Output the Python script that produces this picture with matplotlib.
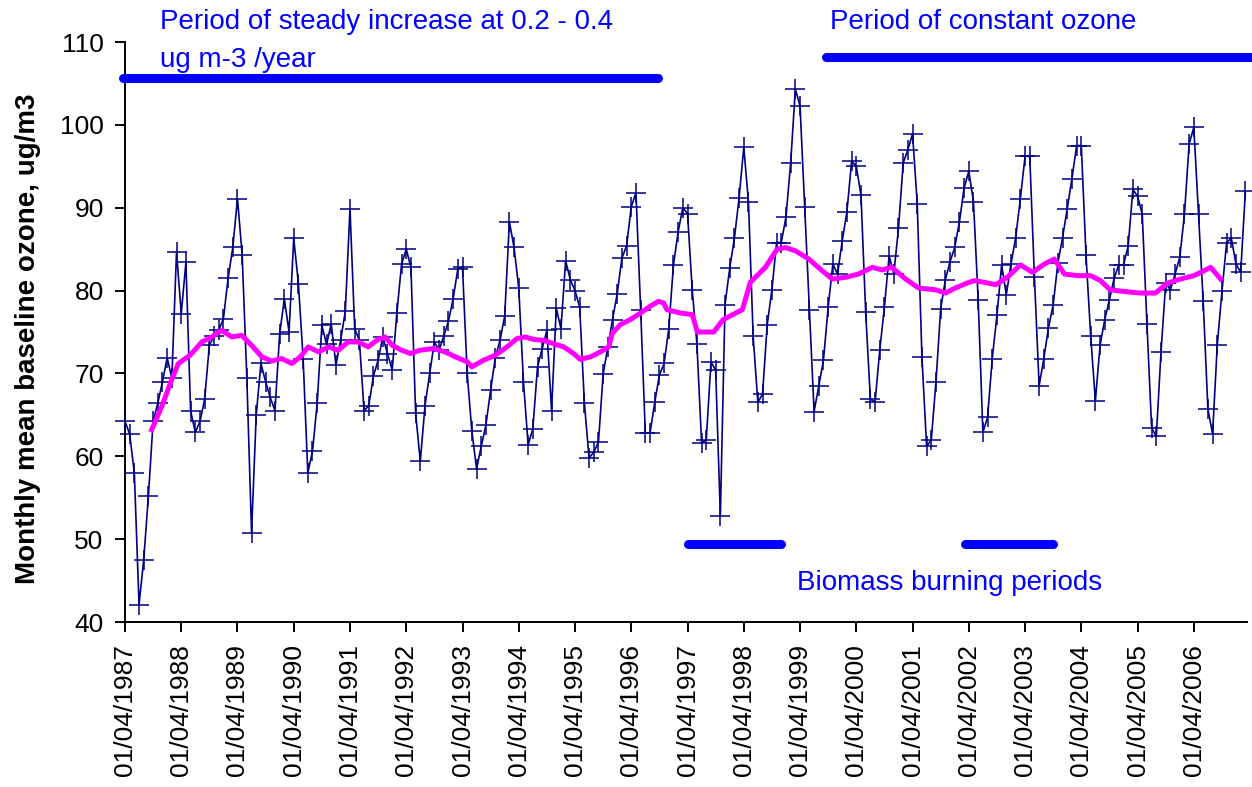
import numpy as np
import matplotlib
matplotlib.use("Agg")
import matplotlib.pyplot as plt

plt.rcParams['font.family'] = ['Liberation Sans', 'DejaVu Sans']

# monthly mean baseline ozone, ug/m3, one value per month from April 1987
ozone = [
    64.2, 62.7, 58.0, 42.1, 47.5, 55.2, 64.2, 66.4, 69.0, 71.9, 69.4, 84.7,
    77.2, 83.4, 65.5, 62.9, 64.2, 66.9, 73.4, 74.5, 75.2, 76.6, 81.5, 85.2,
    91.1, 84.3, 69.4, 50.8, 65.0, 71.2, 69.0, 67.1, 65.5, 74.8, 79.0, 75.0,
    86.3, 80.8, 71.8, 58.0, 60.6, 66.4, 75.8, 73.5, 76.0, 71.0, 74.0, 77.5,
    89.9, 75.4, 74.0, 65.5, 66.1, 69.7, 71.6, 74.4, 72.4, 70.4, 77.3, 83.2,
    85.0, 82.8, 65.2, 59.4, 66.1, 70.0, 73.8, 72.8, 74.5, 76.3, 79.0, 82.6,
    82.8, 70.0, 63.0, 58.5, 61.2, 63.8, 68.0, 71.9, 74.0, 76.9, 88.3, 85.2,
    80.3, 69.0, 61.4, 63.3, 70.8, 73.0, 75.2, 65.5, 77.9, 75.4, 83.6, 81.3,
    80.0, 78.0, 66.4, 59.8, 60.5, 61.7, 69.9, 73.2, 76.5, 79.6, 83.9, 85.4,
    90.1, 91.8, 77.7, 62.8, 62.8, 66.5, 69.8, 71.2, 75.4, 83.1, 87.1, 90.0,
    89.3, 80.1, 73.6, 61.6, 62.0, 71.4, 70.4, 52.8, 78.3, 82.7, 86.3, 91.2,
    97.3, 90.7, 74.5, 66.5, 67.5, 75.9, 80.1, 85.8, 85.8, 88.9, 95.4, 104.3,
    102.3, 90.1, 77.7, 65.4, 68.5, 71.6, 78.0, 83.2, 82.0, 86.0, 89.5, 95.6,
    95.0, 91.5, 77.4, 66.9, 66.5, 72.8, 78.0, 84.2, 82.0, 87.5, 95.4, 97.0,
    98.9, 90.5, 72.0, 61.2, 62.0, 69.0, 77.8, 81.3, 83.5, 85.2, 88.3, 92.4,
    94.4, 90.7, 78.9, 62.9, 64.7, 71.8, 77.0, 83.1, 79.5, 83.2, 86.4, 91.1,
    96.2, 96.2, 81.6, 68.5, 71.8, 75.5, 78.3, 83.3, 86.4, 89.9, 93.5, 97.5,
    97.5, 84.3, 74.5, 66.7, 73.4, 76.5, 78.9, 81.5, 83.1, 83.1, 85.4, 92.2,
    91.4, 89.2, 76.0, 63.4, 62.4, 72.6, 80.9, 80.1, 82.0, 84.0, 89.2, 97.7,
    99.7, 89.2, 78.7, 65.7, 62.7, 73.4, 79.9, 85.8, 86.3, 83.2, 82.2, 92.0,
]

# running mean (magenta), months since April 1987 and value
trend_month = [
    5.7, 7.9, 10.0, 11.4, 13.9, 16.4, 18.5, 20.6, 22.8, 24.9, 27.0, 29.2,
    31.3, 33.4, 35.6, 37.4, 39.1, 41.3, 43.4, 45.5, 47.6, 49.8, 51.9, 53.7,
    55.5, 57.0, 59.0, 60.9, 62.9, 65.8, 68.3, 70.5, 73.0, 74.0, 76.5, 79.0,
    81.5, 83.6, 85.4, 87.2, 89.3, 91.4, 93.6, 95.7, 97.1, 99.3, 101.4, 103.2,
    103.9, 105.7, 107.8, 110.0, 112.0, 113.8, 114.9, 115.6, 118.4, 121.0, 122.1, 125.6,
    127.6, 131.7, 133.4, 136.6, 139.1, 140.9, 143.0, 145.9, 148.7, 150.9, 153.7, 156.5,
    159.4, 161.5, 163.6, 166.5, 169.3, 172.9, 175.0, 177.1, 179.6, 181.1, 183.3, 185.7,
    188.2, 191.0, 193.6, 196.1, 198.2, 200.4, 203.2, 206.0, 208.1, 210.1, 213.0, 216.7,
    219.8, 222.4, 225.2, 228.0, 230.2, 231.6, 233.7,
]
trend_value = [
    63.2, 66.1, 69.3, 71.2, 72.2, 73.8, 74.4, 75.2, 74.4, 74.6, 73.4, 72.0,
    71.5, 71.8, 71.2, 72.0, 73.2, 72.6, 73.2, 72.8, 73.8, 73.8, 73.2, 74.0,
    74.4, 73.4, 72.8, 72.4, 72.8, 73.0, 72.6, 72.0, 71.4, 70.8, 71.6, 72.2,
    73.2, 74.2, 74.4, 74.1, 74.0, 73.6, 73.2, 72.4, 71.7, 72.0, 72.6, 73.2,
    74.8, 75.9, 76.5, 77.3, 78.1, 78.7, 78.5, 77.7, 77.3, 77.1, 75.0, 75.0,
    76.5, 77.7, 81.0, 82.8, 85.0, 85.2, 84.8, 83.8, 82.4, 81.4, 81.6, 82.0,
    82.8, 82.5, 82.8, 81.4, 80.3, 80.1, 79.7, 80.3, 80.9, 81.2, 81.0, 80.7,
    81.6, 83.1, 82.2, 83.2, 83.8, 82.0, 81.8, 81.8, 81.2, 80.1, 79.9, 79.7,
    79.7, 80.9, 81.4, 81.8, 82.4, 82.8, 81.4,
]

tick_years = list(range(1987, 2007))
tick_labels = ["01/04/%d" % y for y in tick_years]

# annotation bars: (start month, end month, level)
steady_bar = (-0.4, 113.7, 105.7)
constant_bar = (149.5, 246.0, 108.2)
biomass_bars = [(120.0, 139.9, 49.4), (179.1, 197.9, 49.4)]

W, H = 1252, 787
fig = plt.figure(figsize=(W / 100, H / 100), dpi=100)
ax = fig.add_axes([124.5 / W, 1 - 622 / H, 1122.3 / W, 580 / H])

months = np.arange(len(ozone))
ax.plot(months, ozone, color='#000080', lw=1.2, marker='+', ms=14, mew=1.1,
        clip_on=False, zorder=3)
ax.plot(trend_month, trend_value, color='#FF00FF', lw=3.6, zorder=4)

bar_kw = dict(color='#0000FF', lw=6.5, solid_capstyle='round', clip_on=False, zorder=5)
ax.plot(steady_bar[:2], [steady_bar[2]] * 2, **bar_kw)
ax.plot(constant_bar[:2], [constant_bar[2]] * 2, **bar_kw)
for x0, x1, y in biomass_bars:
    ax.plot([x0, x1], [y, y], **bar_kw)

ax.set_xlim(-0.1, 239.3)
ax.set_ylim(40, 110)
ax.set_yticks(range(40, 111, 10))
ax.set_xticks([12 * (y - 1987) for y in tick_years])
ax.set_xticklabels(tick_labels, rotation=90)
ax.tick_params(axis='both', labelsize=19, length=7, width=1.4, direction='out')
ax.tick_params(axis='x', pad=9)
ax.tick_params(axis='y', pad=8)
for s in ['top', 'right']:
    ax.spines[s].set_visible(False)
for s in ['left', 'bottom']:
    ax.spines[s].set_linewidth(1.4)

ax.set_ylabel("Monthly mean baseline ozone, ug/m3", fontsize=20, fontweight='bold')
ax.yaxis.set_label_coords((41 - 124.5) / 1122.3, 0.488)

txt = dict(color='#0000FF', fontsize=20, va='center', ha='left')
fig.text(160 / W, 1 - 22 / H, "Period of steady increase at 0.2 - 0.4", **txt)
fig.text(160 / W, 1 - 60 / H, "ug m-3 /year", **txt)
fig.text(830 / W, 1 - 22 / H, "Period of constant ozone", **txt)
fig.text(797 / W, 1 - 583 / H, "Biomass burning periods", **txt)

fig.savefig("out.png", dpi=100)
